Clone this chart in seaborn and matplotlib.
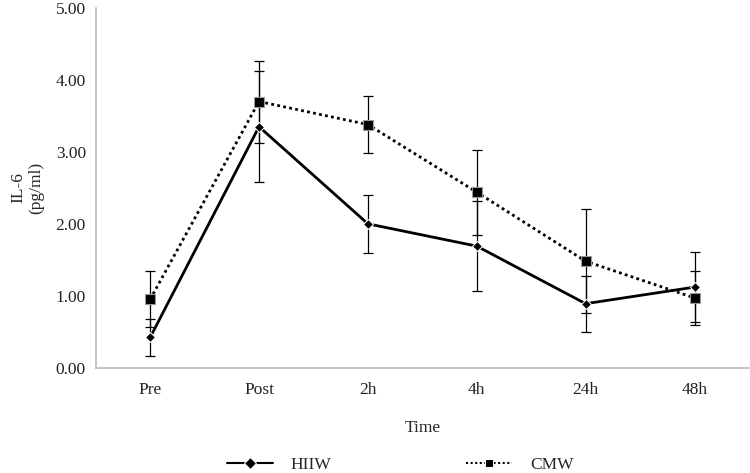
import matplotlib
matplotlib.use("Agg")
import matplotlib.pyplot as plt
import seaborn as sns
import pandas as pd
from matplotlib.ticker import FormatStrFormatter

# values
times = ["Pre", "Post", "2h", "4h", "24h", "48h"]
hiiw_mean = [0.42, 3.35, 2.00, 1.69, 0.89, 1.12]
hiiw_sd = [0.26, 0.77, 0.40, 0.63, 0.39, 0.49]
cmw_mean = [0.95, 3.70, 3.38, 2.44, 1.48, 0.97]
cmw_sd = [0.39, 0.57, 0.40, 0.59, 0.72, 0.37]

df = pd.concat([
    pd.DataFrame({"Time": times, "IL6": hiiw_mean, "sd": hiiw_sd, "Group": "HIIW"}),
    pd.DataFrame({"Time": times, "IL6": cmw_mean, "sd": cmw_sd, "Group": "CMW"}),
])

sns.set_theme(style="white")
plt.rcParams["font.family"] = ["Liberation Serif", "DejaVu Serif"]

fig = plt.figure(figsize=(7.5, 4.73), dpi=100)
ax = fig.add_axes([0.1276, 0.2226, 0.871, 0.7605])

ax = sns.lineplot(data=df, x="Time", y="IL6", style="Group", hue="Group",
                  palette={"HIIW": "black", "CMW": "black"},
                  dashes={"HIIW": "", "CMW": (1, 1.2)},
                  markers={"HIIW": "D", "CMW": "s"}, ax=ax, sort=False)

for line, g in zip(ax.lines, ["HIIW", "CMW"]):
    if g == "HIIW":
        line.set_linewidth(2.0)
        line.set_markersize(5)
    else:
        line.set_linewidth(2.0)
        line.set_markersize(7)
        line.set_markeredgecolor("#999999")
        line.set_markeredgewidth(0.8)

for g, sub in df.groupby("Group", sort=False):
    ax.errorbar(sub["Time"], sub["IL6"], yerr=sub["sd"], fmt="none",
                ecolor="black", elinewidth=0.9, capsize=3.5, capthick=0.9, zorder=1)

ax.set_xlim(-0.5, 5.5)
ax.set_ylim(0, 5)
ax.set_yticks([0, 1, 2, 3, 4, 5])
ax.yaxis.set_major_formatter(FormatStrFormatter("%.2f"))
ax.tick_params(axis="both", labelsize=12.5, length=0, pad=7, colors="#222222")
ax.tick_params(axis="x", pad=10)
for s in ["top", "right"]:
    ax.spines[s].set_visible(False)
for s in ["left", "bottom"]:
    ax.spines[s].set_color("#bbbbbb")
    ax.spines[s].set_linewidth(1.2)
ax.set_xlabel("Time", fontsize=12.5, labelpad=16)
ax.set_ylabel("IL-6\n(pg/ml)", fontsize=12.5, labelpad=8)

handles, labels = ax.get_legend_handles_labels()
ax.legend(handles, labels, loc="center", bbox_to_anchor=(0.466, -0.27), ncol=2,
          frameon=False, fontsize=12.5, columnspacing=7.8, handlelength=2.65,
          handletextpad=1.0)

fig.savefig("out.png", dpi=100)
